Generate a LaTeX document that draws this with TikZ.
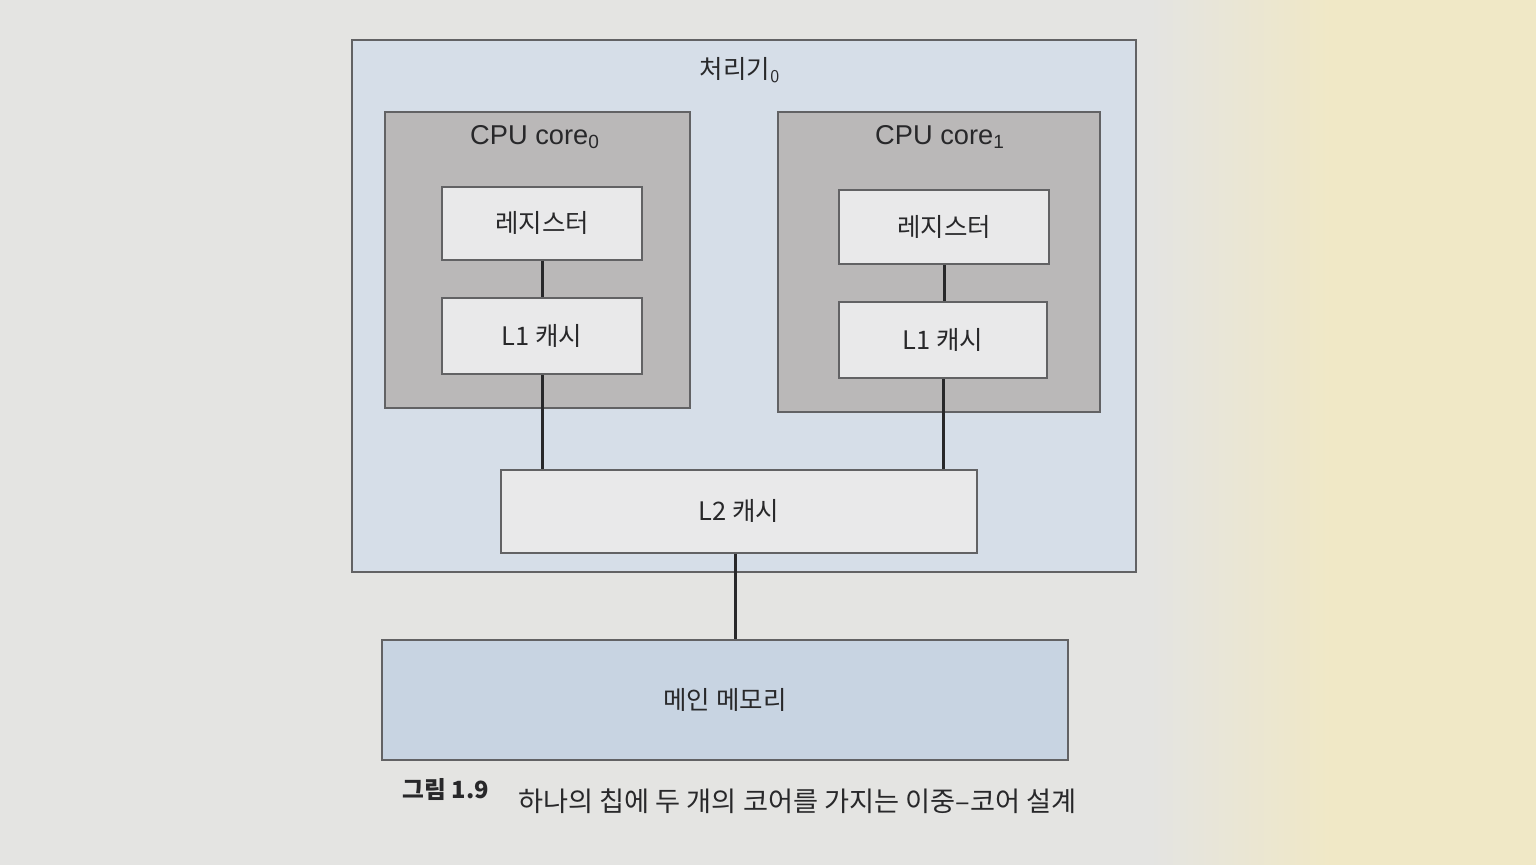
\documentclass[tikz,border=0pt]{standalone}
\usepackage{fontspec}
\setmainfont{Liberation Sans}
\newfontfamily\kr{Noto Sans CJK KR}
\usetikzlibrary{positioning}
\definecolor{pagebg}{RGB}{228,228,226}
\definecolor{pageyel}{RGB}{240,232,198}
\definecolor{procfill}{RGB}{214,222,232}
\definecolor{corefill}{RGB}{186,184,184}
\definecolor{unitfill}{RGB}{233,233,234}
\definecolor{memfill}{RGB}{200,212,226}
\definecolor{edge}{RGB}{98,98,100}
\definecolor{ink}{RGB}{40,40,42}

\tikzset{
  procbox/.style={draw=edge, fill=procfill, line width=0.4mm},
  corebox/.style={draw=edge, fill=corefill, line width=0.4mm},
  unitbox/.style={draw=edge, fill=unitfill, line width=0.4mm, text=ink,
    font=\kr\fontsize{14.5}{17}\selectfont},
  membox/.style={draw=edge, fill=memfill, line width=0.4mm, text=ink,
    font=\kr\fontsize{14.5}{17}\selectfont},
  corelabel/.style={text=ink, font=\fontsize{15.5}{18}\selectfont},
  link/.style={line width=0.6mm, ink}
}

\begin{document}
\begin{tikzpicture}[x=0.2mm, y=-0.2mm]
    \useasboundingbox (0,0) rectangle (1536,864);
    \fill[pagebg] (-2,-2) rectangle (1152,866);
    \shade[left color=pagebg, right color=pageyel] (1150,-2) rectangle (1332,866);
    \fill[pageyel] (1330,-2) rectangle (1538,866);

    \node[procbox, minimum width=156.8mm, minimum height=106.2mm] (proc) at (744,306) {};
    \node[text=ink, font=\kr\fontsize{14.5}{17}\selectfont] (ptitle) at (740,70) {처리기\textsubscript{\sffamily 0}};

    \node[corebox, minimum width=61mm, minimum height=59.2mm] (core0) at (537,260) {};
    \node[corebox, minimum width=64.4mm, minimum height=60mm] (core1) at (939,262) {};
    \node[corelabel] (clab0) at (535,137) {CPU core\textsubscript{0}};
    \node[corelabel] (clab1) at (940,137) {CPU core\textsubscript{1}};

    \node[unitbox, minimum width=40mm, minimum height=14.6mm] (reg0) at (542,223) {레지스터};
    \node[unitbox, minimum width=40mm, minimum height=15.2mm] (l1a) at (542,336) {L1 캐시};
    \node[unitbox, minimum width=42mm, minimum height=14.8mm] (reg1) at (944,227) {레지스터};
    \node[unitbox, minimum width=41.6mm, minimum height=15.2mm] (l1b) at (943,340) {L1 캐시};

    \node[unitbox, minimum width=95.2mm, minimum height=16.6mm] (l2) at (739,511) {L2 캐시};
    \node[membox, minimum width=137mm, minimum height=24mm] (mem) at (725,700) {메인 메모리};

    \draw[link] (reg0) -- (l1a);
    \draw[link] (reg1.south) -- (reg1.south |- l1b.north);
    \draw[link] (l1a.south) -- (l1a.south |- l2.north);
    \draw[link] (l1b.south) -- (l1b.south |- l2.north);
    \draw[link] (l2.south -| 735,0) -- (mem.north -| 735,0);

    \node[text=ink, font=\kr\bfseries\fontsize{13.5}{16}\selectfont] (fignum) at (446,789) {그림 1.9};
    \node[anchor=west, text=ink, font=\kr\fontsize{15.5}{18}\selectfont] (figcap) at (512,801)
      {하나의 칩에 두 개의 코어를 가지는 이중–코어 설계};
  \end{tikzpicture}
\end{document}
